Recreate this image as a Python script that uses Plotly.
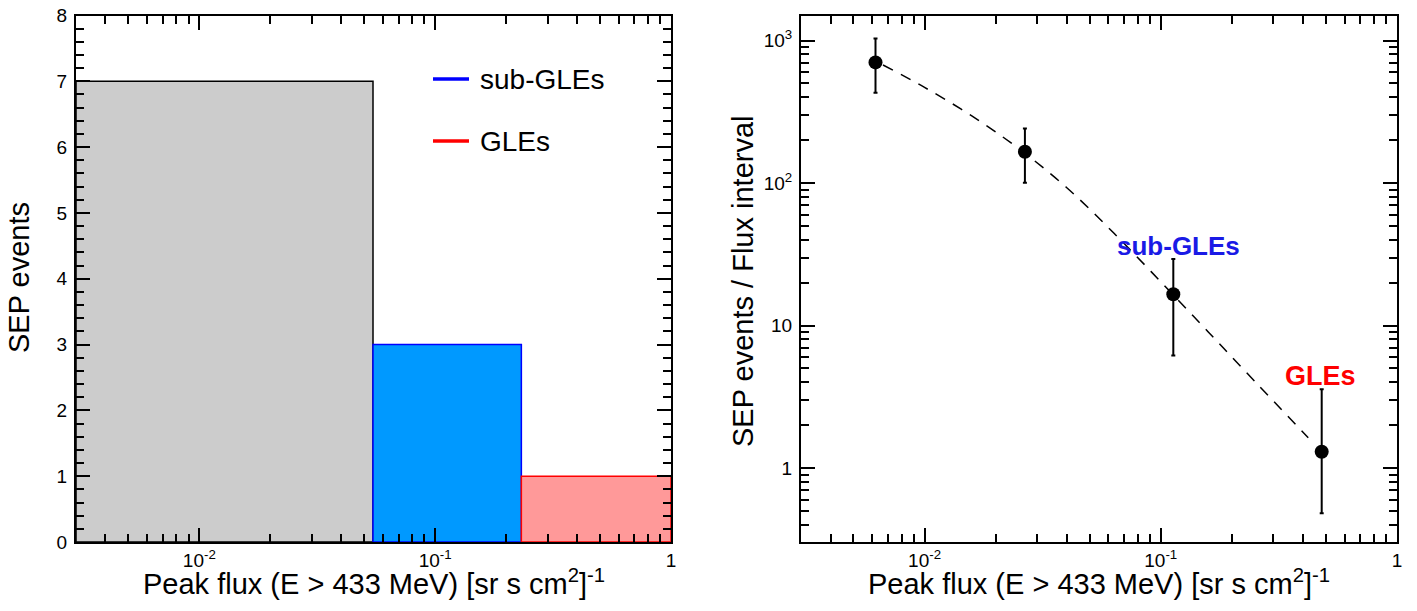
import plotly.graph_objects as go

# ---------------- data ----------------
bin_edges = [0.003, 0.0545, 0.232, 1.0]
bin_counts = [7, 3, 1]
bin_names = ["all", "sub-GLEs", "GLEs"]

points_x = [0.0062, 0.0266, 0.113, 0.48]
points_y = [703, 166, 16.6, 1.30]
err_hi = [1036, 242, 29.3, 3.58]
err_lo = [430, 100.7, 6.17, 0.481]

fit_x = [0.00667, 0.01, 0.01585, 0.0251, 0.0398, 0.0631, 0.1, 0.1585, 0.251, 0.421]
fit_y = [674, 469, 296, 174, 93.5, 44.8, 20.3, 9.06, 4.03, 1.63]

x_major = [0.01, 0.1, 1]
x_major_text = ["10<sup>-2</sup>", "10<sup>-1</sup>", "1"]
x_minor = [0.004, 0.005, 0.006, 0.007, 0.008, 0.009,
           0.02, 0.03, 0.04, 0.05, 0.06, 0.07, 0.08, 0.09,
           0.2, 0.3, 0.4, 0.5, 0.6, 0.7, 0.8, 0.9]
y2_major = [1, 10, 100, 1000]
y2_major_text = ["1", "10", "10<sup>2</sup>", "10<sup>3</sup>"]
y2_minor = [0.3, 0.4, 0.5, 0.6, 0.7, 0.8, 0.9,
            2, 3, 4, 5, 6, 7, 8, 9,
            20, 30, 40, 50, 60, 70, 80, 90,
            200, 300, 400, 500, 600, 700, 800, 900]

xtitle = "Peak flux (E > 433 MeV) [sr s cm<sup>2</sup>]<sup>-1</sup>"
ytitle_left = "SEP events"
ytitle_right = "SEP events / Flux interval"

# ---------------- styles ----------------
FONT = "Liberation Sans, Arial, Helvetica, sans-serif"
bin_fill = ["#cccccc", "#0099ff", "#ff9999"]
bin_line = ["#000000", "#0000ff", "#ff0000"]
W, H = 1417, 611
OFF = 0  # page body margin removed by post_script


def px(x):
    return (x - OFF) / W


def py(y):
    return 1 - (y - OFF) / H


fig = go.Figure()

for i in range(len(bin_counts)):
    a, b = bin_edges[i], bin_edges[i + 1]
    h = bin_counts[i]
    fig.add_trace(go.Scatter(
        x=[a, a, b, b, a], y=[0, h, h, 0, 0],
        mode="lines", fill="toself", fillcolor=bin_fill[i],
        line=dict(color=bin_line[i], width=1.5),
        name=bin_names[i], showlegend=False, hoverinfo="skip",
        xaxis="x", yaxis="y"))

fig.add_trace(go.Scatter(
    x=fit_x, y=fit_y, mode="lines", line_shape="spline",
    line=dict(color="black", width=1.5, dash="11px,9px"),
    showlegend=False, xaxis="x2", yaxis="y2"))

fig.add_trace(go.Scatter(
    x=points_x, y=points_y, mode="markers",
    marker=dict(color="black", size=14),
    error_y=dict(type="data", symmetric=False,
                 array=[h - y for h, y in zip(err_hi, points_y)],
                 arrayminus=[y - l for l, y in zip(err_lo, points_y)],
                 color="black", thickness=2, width=2),
    showlegend=False, xaxis="x2", yaxis="y2"))

tickfont = dict(family=FONT, size=19, color="black")
titlefont = dict(family=FONT, size=29, color="black")

common = dict(showline=True, linewidth=2, linecolor="black", mirror="ticks",
              ticks="inside", tickwidth=1.5, tickcolor="black", automargin=False,
              showgrid=False, zeroline=False, tickfont=tickfont,
              ticklabeloverflow="allow")

xlog = dict(type="log", range=[-2.523, 0], tickmode="array",
            tickvals=x_major, ticktext=x_major_text, ticklen=14,
            minor=dict(tickmode="array", tickvals=x_minor, ticks="inside",
                       ticklen=8, tickwidth=1.5, tickcolor="black", showgrid=False),
            ticklabelstandoff=0)

L0, L1 = px(76), px(671)
R0, R1 = px(801), px(1397)
B0, B1 = py(542), py(15.5)

fig.update_layout(
    width=W, height=H, autosize=False,
    margin=dict(l=0, r=0, t=0, b=0, pad=0),
    paper_bgcolor="white", plot_bgcolor="white",
    showlegend=False,
    xaxis=dict(domain=[L0, L1], anchor="y", **common, **xlog),
    yaxis=dict(domain=[B0, B1], anchor="x", range=[0, 8], tickmode="linear",
               tick0=0, dtick=1, ticklen=14,
               minor=dict(dtick=0.2, ticks="inside", ticklen=8, tickwidth=1.5,
                          tickcolor="black", showgrid=False),
               ticklabelstandoff=3, **common),
    xaxis2=dict(domain=[R0, R1], anchor="y2", **common, **xlog),
    yaxis2=dict(domain=[B0, B1], anchor="x2", type="log", range=[-0.519, 3.176],
                tickmode="array", tickvals=y2_major, ticktext=y2_major_text,
                ticklen=14,
                minor=dict(tickmode="array", tickvals=y2_minor, ticks="inside",
                           ticklen=8, tickwidth=1.5, tickcolor="black", showgrid=False),
                ticklabelstandoff=3, **common),
)

# axis titles
for cx in [(76 + 671) / 2, (801 + 1397) / 2]:
    fig.add_annotation(xref="paper", yref="paper", x=px(cx), y=py(582),
                       xanchor="center", yanchor="middle", showarrow=False,
                       text=xtitle, font=titlefont)
fig.add_annotation(xref="paper", yref="paper", x=px(19), y=py(278),
                   xanchor="center", yanchor="middle", showarrow=False,
                   textangle=-90, text=ytitle_left, font=titlefont)
fig.add_annotation(xref="paper", yref="paper", x=px(743), y=py(281),
                   xanchor="center", yanchor="middle", showarrow=False,
                   textangle=-90, text=ytitle_right, font=titlefont)

# legend (left panel)
legend_items = [("sub-GLEs", "#0000ff", 79), ("GLEs", "#ff0000", 141)]
for text, col, ypix in legend_items:
    fig.add_shape(type="line", xref="paper", yref="paper",
                  x0=px(433), x1=px(469), y0=py(ypix), y1=py(ypix),
                  line=dict(color=col, width=3.5))
    fig.add_annotation(xref="paper", yref="paper", x=px(478), y=py(ypix),
                       xanchor="left", yanchor="middle", showarrow=False,
                       text=text, font=dict(family=FONT, size=28, color="black"))

# labels (right panel)
fig.add_annotation(xref="paper", yref="paper", x=px(1178), y=py(246),
                   xanchor="center", yanchor="middle", showarrow=False,
                   text="<b>sub-GLEs</b>", font=dict(family=FONT, size=26, color="#1a1ae6"))
fig.add_annotation(xref="paper", yref="paper", x=px(1320), y=py(376),
                   xanchor="center", yanchor="middle", showarrow=False,
                   text="<b>GLEs</b>", font=dict(family=FONT, size=27, color="#ff0000"))

fig.write_html("out.html", config={"displayModeBar": False},
               post_script="document.body.style.margin='0';document.body.style.padding='0';")
